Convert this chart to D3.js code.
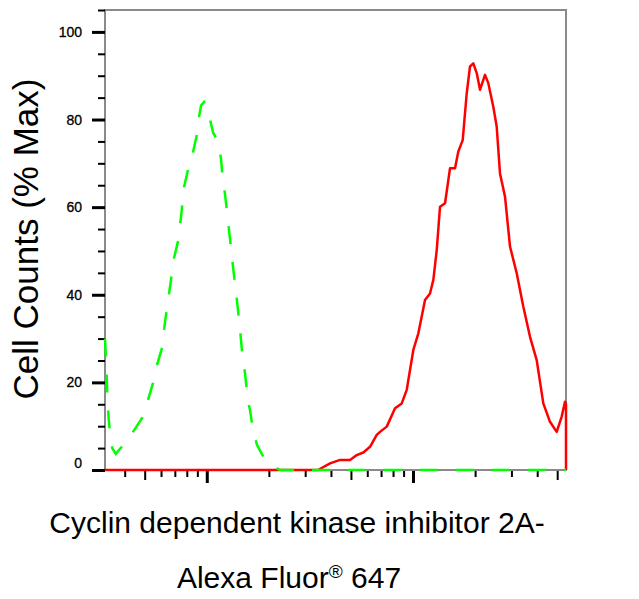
<!DOCTYPE html>
<html>
<head>
<meta charset="utf-8">
<script src="https://cdn.jsdelivr.net/npm/d3@7"></script>
<style>
  body { margin: 0; background: #fff; }
  text { font-family: "Liberation Sans", Arial, sans-serif; }
</style>
</head>
<body>
<div id="chart"></div>
<script>
// Chart data

// y axis ticks (% Max), labelled every 20
var yTickValues = [0, 5, 10, 15, 20, 25, 30, 35, 40, 45, 50, 55, 60, 65, 70, 75, 80, 85, 90, 95, 100, 105];
var yTickLabels = [0, 20, 40, 60, 80, 100];

// control (isotype) histogram, green dashed
var controlX = [321, 325, 329, 334, 340, 348, 362, 387, 411, 439, 486, 519, 549, 574, 607, 628, 664, 694, 726, 751,
	776, 812, 858, 897, 917, 938, 970, 1003, 1026, 1073, 1134, 1173, 1193, 1227, 1283, 1341, 1403, 1450, 1483, 1534,
	1586, 1621, 1676, 1753, 1917, 2073, 2266, 55170];
var controlY = [30, 25, 18, 12, 8, 5, 3.7, 5.3, 7, 8.7, 11.9, 16, 19.9, 24, 27.9, 34, 42, 48.4, 52.3, 58,
	64.6, 68.7, 72.6, 76.7, 80.6, 83.2, 84, 82.5, 81, 77, 75, 71, 66.7, 62.8, 54.6, 46.3, 38.4, 32, 27, 21.9,
	15.5, 13.7, 9, 5.7, 2.3, 1, 0, 0];

// stained sample histogram, red solid
var sampleX = [321, 3463, 3960, 4428, 4951, 5336, 5742, 6187, 6668, 6918, 7457, 8181, 8815, 9322, 10035, 10610,
	11434, 12089, 12545, 13030, 13517, 14295, 15117, 15983, 16581, 17414, 18210, 18893, 19601, 20362, 21126,
	22336, 23174, 24503, 25447, 26403, 27925, 29532, 31823, 34246, 36917, 39776, 42821, 46144, 49730, 52584,
	54560, 55170, 55170];
var sampleY = [0, 0, 1.5, 2.3, 2.3, 3.4, 4, 5.3, 8, 8.7, 9.9, 14.1, 15.2, 18.3, 27.4, 31.2,
	38.8, 40.3, 43.4, 50.2, 60.1, 60.9, 68.9, 68.9, 72.7, 75.3, 86, 92.1, 92.8, 90.6, 86.8,
	90.2, 88.3, 82.9, 78.4, 67.7, 62.4, 51, 44.9, 37.3, 30.4, 25.1, 15.2, 11, 8.7, 12.2,
	15.6, 15, 0];

var xDomain = [321, 55170];
var yDomain = [0, 105];

// SVG drawing area
var margin = {top: 10, right: 73, bottom: 129, left: 105};
var width = 639 - margin.left - margin.right,
	height = 599 - margin.top - margin.bottom;

var svg = d3.select("#chart").append("svg")
	.attr("width", 639)
	.attr("height", 599)
	.style("display", "block");

var g = svg.append("g")
	.attr("transform", "translate(" + margin.left + "," + margin.top + ")");

// Scales
var xScale = d3.scaleLog().domain(xDomain).range([0, width]);
var yScale = d3.scaleLinear().domain(yDomain).range([height, 0]);

// Frame
g.append("rect")
	.attr("x", 0).attr("y", 0)
	.attr("width", width).attr("height", height)
	.attr("fill", "none")
	.attr("stroke", "#8a8a8a")
	.attr("stroke-width", 2);

// Y axis
var yAxis = d3.axisLeft(yScale)
	.tickValues(yTickValues)
	.tickSize(7)
	.tickFormat(function(d) { return yTickLabels.indexOf(d) >= 0 ? d : ""; });

var yAxisGroup = g.append("g").attr("class", "y-axis").call(yAxis);
yAxisGroup.select(".domain").remove();
yAxisGroup.selectAll(".tick line")
	.attr("x2", function(d) { return d % 20 === 0 ? -13 : -7; })
	.attr("stroke", "#000")
	.attr("stroke-width", function(d) { return d % 20 === 0 ? 3 : 2; });
yAxisGroup.selectAll(".tick text")
	.attr("x", -23)
	.attr("dy", function(d) { return d === 0 ? "-0.2em" : "0.32em"; })
	.style("font-size", "14px")
	.style("font-family", "'Liberation Sans', Arial, sans-serif")
	.attr("fill", "#000")
	.attr("stroke", "#000")
	.attr("stroke-width", 0.3);

// X axis (log, no labels)
var xTickValues = xScale.ticks().filter(function(d) {
	return d >= xDomain[0] && d <= xDomain[1];
});
function tickKind(d) {
	var m = Math.round(d / Math.pow(10, Math.floor(Math.log10(d) + 1e-9)));
	return m === 1 ? "major" : (m === 5 ? "mid" : "minor");
}
var xAxis = d3.axisBottom(xScale)
	.tickValues(xTickValues)
	.tickSize(7)
	.tickFormat("");

var xAxisGroup = g.append("g")
	.attr("class", "x-axis")
	.attr("transform", "translate(0," + height + ")")
	.call(xAxis);
xAxisGroup.select(".domain").remove();
xAxisGroup.selectAll(".tick line")
	.attr("y1", 1)
	.attr("y2", function(d) {
		var k = tickKind(d);
		return k === "major" ? 13 : (k === "mid" ? 10 : 7);
	})
	.attr("stroke", "#000")
	.attr("stroke-width", function(d) { return tickKind(d) === "major" ? 3 : 2; });

// Histogram lines
var line = d3.line()
	.x(function(d) { return xScale(d[0]); })
	.y(function(d) { return yScale(d[1]); });

var controlData = controlX.map(function(x, i) { return [x, controlY[i]]; });
var sampleData = sampleX.map(function(x, i) { return [x, sampleY[i]]; });

g.append("path")
	.datum(sampleData)
	.attr("d", line)
	.attr("fill", "none")
	.attr("stroke", "#ff0000")
	.attr("stroke-width", 2.5)
	.attr("stroke-linejoin", "round");

g.append("path")
	.datum(controlData)
	.attr("d", line)
	.attr("fill", "none")
	.attr("stroke", "#00ff00")
	.attr("stroke-width", 2.5)
	.attr("stroke-dasharray", "18,18");

// Axis titles
svg.append("text")
	.attr("transform", "translate(38,239) rotate(-90)")
	.attr("text-anchor", "middle")
	.style("font-size", "35px")
	.attr("fill", "#000")
	.text("Cell Counts (% Max)");

svg.append("text")
	.attr("x", 297)
	.attr("y", 533)
	.attr("text-anchor", "middle")
	.style("font-size", "30px")
	.attr("fill", "#000")
	.text("Cyclin dependent kinase inhibitor 2A-");

var line2 = svg.append("text")
	.attr("x", 289)
	.attr("y", 588)
	.attr("text-anchor", "middle")
	.style("font-size", "30px")
	.attr("fill", "#000");
line2.append("tspan").text("Alexa Fluor");
line2.append("tspan")
	.attr("dy", -10)
	.style("font-size", "19px")
	.text("®");
line2.append("tspan")
	.attr("dy", 10)
	.text(" 647");
</script>
</body>
</html>
